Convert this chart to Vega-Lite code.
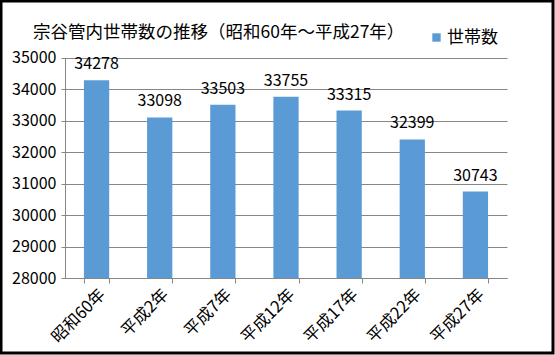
{
  "$schema": "https://vega.github.io/schema/vega-lite/v6.json",
  "width": 552,
  "height": 352,
  "autosize": {"type": "none"},
  "padding": {"left": 1, "top": 1, "right": 2, "bottom": 2},
  "background": "white",
  "config": {
    "view": {"stroke": "black", "strokeWidth": 3},
    "font": "Noto Sans CJK JP"
  },
  "title": {
    "text": "宗谷管内世帯数の推移（昭和60年～平成27年）",
    "anchor": "start",
    "frame": "group",
    "offset": -40,
    "dx": 32,
    "fontSize": 17.5,
    "fontWeight": "normal",
    "color": "black"
  },
  "data": {
    "values": [
      {"年": "昭和60年", "世帯数": 34278},
      {"年": "平成2年", "世帯数": 33098},
      {"年": "平成7年", "世帯数": 33503},
      {"年": "平成12年", "世帯数": 33755},
      {"年": "平成17年", "世帯数": 33315},
      {"年": "平成22年", "世帯数": 32399},
      {"年": "平成27年", "世帯数": 30743}
    ]
  },
  "encoding": {
    "x": {
      "field": "年",
      "type": "nominal",
      "sort": null,
      "scale": {"range": [64, 506], "paddingInner": 0.6, "paddingOuter": 0.3},
      "axis": {
        "title": null,
        "offset": -75,
        "labelAngle": -45,
        "labelFontSize": 16.5,
        "labelColor": "black",
        "domainColor": "#868686",
        "tickColor": "#868686",
        "tickSize": 5,
        "tickBand": "extent",
        "labelPadding": 3,
        "grid": false
      }
    },
    "y": {
      "field": "世帯数",
      "type": "quantitative",
      "scale": {"domain": [28000, 35000], "range": [277, 56.5], "nice": false, "zero": false},
      "axis": {
        "title": null,
        "offset": -64,
        "values": [28000, 29000, 30000, 31000, 32000, 33000, 34000, 35000],
        "format": "d",
        "grid": true,
        "gridColor": "#868686",
        "gridWidth": 1,
        "domainColor": "#868686",
        "tickColor": "#868686",
        "tickSize": 4,
        "labelFontSize": 16,
        "labelColor": "black",
        "labelPadding": 5
      }
    }
  },
  "layer": [
    {
      "mark": {"type": "bar"},
      "encoding": {
        "y2": {"datum": 28000},
        "color": {
          "datum": "世帯数",
          "scale": {"range": ["#5B9BD5"]},
          "legend": {
            "orient": "none",
            "legendX": 427,
            "legendY": 28,
            "title": null,
            "symbolType": "square",
            "symbolSize": 70,
            "symbolStrokeWidth": 0,
            "labelOffset": 2,
            "labelFontSize": 17,
            "labelColor": "black"
          }
        }
      }
    },
    {
      "mark": {"type": "text", "dy": -11, "baseline": "alphabetic", "fontSize": 16, "color": "black"},
      "encoding": {
        "text": {"field": "世帯数", "type": "quantitative", "format": "d"}
      }
    }
  ]
}
